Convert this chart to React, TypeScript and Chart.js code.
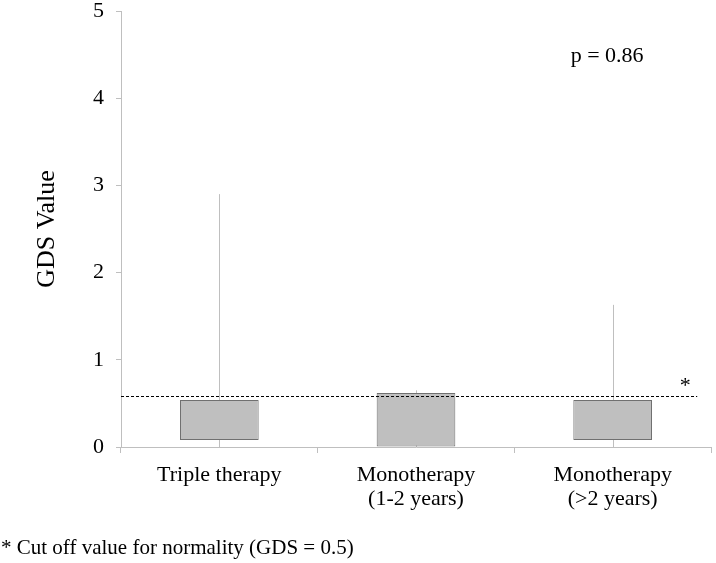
import React, { useEffect, useRef } from "react";
import { Chart, registerables } from "chart.js";

Chart.register(...registerables);

const categories: string[][] = [["Triple therapy"], ["Monotherapy", "(1-2 years)"], ["Monotherapy", "(>2 years)"]];
const boxLow = [0.08, 0, 0.08];
const boxHigh = [0.54, 0.62, 0.54];
const whiskerLow = [0, 0, 0];
const whiskerHigh = [2.9, 0.65, 1.63];
const cutoff = 0.59;
const pText = "p = 0.86";
const footnote = "* Cut off value for normality (GDS = 0.5)";

const FONT = "'Liberation Serif', 'Times New Roman', serif";

const annotPlugin = {
  id: "annot",
  beforeDatasetsDraw(chart: any) {
    const ctx = chart.ctx;
    const x = chart.scales.x;
    const y = chart.scales.y;
    ctx.save();
    ctx.strokeStyle = "#BFBFBF";
    ctx.lineWidth = 1;
    whiskerHigh.forEach((hi, i) => {
      const px = Math.round(x.getPixelForValue(i)) + 0.5;
      ctx.beginPath();
      ctx.moveTo(px, y.getPixelForValue(whiskerLow[i]));
      ctx.lineTo(px, y.getPixelForValue(hi));
      ctx.stroke();
    });
    ctx.restore();
  },
  afterDatasetsDraw(chart: any) {
    const ctx = chart.ctx;
    const x = chart.scales.x;
    const y = chart.scales.y;
    const area = chart.chartArea;
    const catW = (area.right - area.left) / categories.length;
    const ly = Math.round(y.getPixelForValue(cutoff)) + 0.5;
    const endX = x.getPixelForValue(categories.length - 1) + 0.43 * catW;
    ctx.save();
    ctx.strokeStyle = "#000";
    ctx.lineWidth = 1;
    ctx.setLineDash([3, 2]);
    ctx.beginPath();
    ctx.moveTo(area.left, ly);
    ctx.lineTo(endX, ly);
    ctx.stroke();
    ctx.setLineDash([]);
    ctx.fillStyle = "#000";
    ctx.textAlign = "center";
    ctx.textBaseline = "middle";
    ctx.font = `22px ${FONT}`;
    ctx.fillText("*", endX - 12, ly - 10);
    ctx.font = `22px ${FONT}`;
    ctx.fillText(pText, area.left + 0.824 * (area.right - area.left), y.getPixelForValue(4.48));
    ctx.restore();
  },
};

export default function App() {
  const ref = useRef<HTMLCanvasElement | null>(null);
  useEffect(() => {
    if (!ref.current) return;
    const chart = new Chart(ref.current, {
      type: "bar",
      data: {
        labels: categories as any,
        datasets: [
          {
            data: boxLow.map((l, i) => [l, boxHigh[i]]) as any,
            backgroundColor: "#BFBFBF",
            borderColor: "#707070",
            borderWidth: 1,
            borderSkipped: false,
            barPercentage: 0.4,
            categoryPercentage: 1,
          },
        ],
      },
      options: {
        animation: false,
        responsive: false,
        devicePixelRatio: 1,
        layout: { padding: { top: 11, right: 5, left: 0, bottom: 0 } },
        plugins: { legend: { display: false }, tooltip: { enabled: false } },
        scales: {
          x: {
            type: "category",
            grid: { offset: true, drawOnChartArea: false, tickLength: 6, color: "#BFBFBF" },
            border: { color: "#BFBFBF" },
            ticks: { font: { family: FONT, size: 22, lineHeight: 1.1 }, color: "#000", padding: 10, maxRotation: 0, autoSkip: false },
            afterFit: (s: any) => { s.height = 116; s.paddingLeft = 0; s.paddingRight = 0; },
          },
          y: {
            min: 0,
            max: 5,
            grid: { drawOnChartArea: false, tickLength: 5, color: "#BFBFBF" },
            border: { color: "#BFBFBF" },
            ticks: { stepSize: 1, font: { family: FONT, size: 22 }, color: "#000", padding: 12 },
            title: { display: true, text: "GDS Value", font: { family: FONT, size: 26 }, color: "#000", padding: { top: 32, bottom: 0 } },
            afterFit: (s: any) => { s.width = 121; s.paddingTop = 0; s.paddingBottom = 0; },
          },
        },
      },
      plugins: [annotPlugin],
    });
    return () => chart.destroy();
  }, []);
  return (
    <div style={{ position: "absolute", left: 0, top: 0, width: 716, height: 563, background: "#fff" }}>
      <canvas ref={ref} width={716} height={563} style={{ width: 716, height: 563, display: "block" }} />
      <div style={{ position: "absolute", left: 1, top: 535, fontFamily: FONT, fontSize: 21, color: "#000", whiteSpace: "nowrap" }}>
        {footnote}
      </div>
    </div>
  );
}
